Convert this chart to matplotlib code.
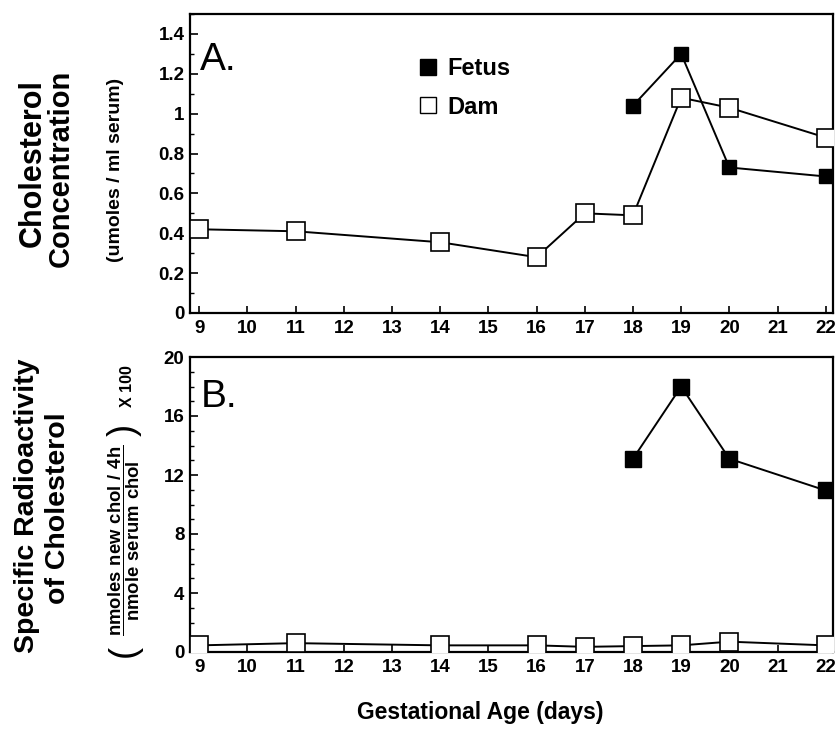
import matplotlib
matplotlib.use("Agg")
import matplotlib.pyplot as plt
from matplotlib.lines import Line2D
from matplotlib.ticker import MultipleLocator

plt.rcParams['font.family'] = ['Liberation Sans', 'DejaVu Sans']
plt.rcParams['mathtext.fontset'] = 'custom'
plt.rcParams['mathtext.rm'] = 'Liberation Sans:bold'
plt.rcParams['mathtext.bf'] = 'Liberation Sans:bold'

# Data
days = [9, 10, 11, 12, 13, 14, 15, 16, 17, 18, 19, 20, 21, 22]
dam_days = [9, 11, 14, 16, 17, 18, 19, 20, 22]
dam_conc = [0.42, 0.41, 0.355, 0.28, 0.50, 0.49, 1.08, 1.03, 0.88]
fetus_days = [18, 19, 20, 22]
fetus_conc = [1.04, 1.30, 0.73, 0.685]
dam_sra = [0.45, 0.6, 0.45, 0.45, 0.35, 0.4, 0.45, 0.7, 0.45]
fetus_sra = [13.1, 18.0, 13.1, 10.95]
conc_ticks = [0, 0.2, 0.4, 0.6, 0.8, 1.0, 1.2, 1.4]
conc_labels = ['0', '0.2', '0.4', '0.6', '0.8', '1', '1.2', '1.4']
sra_ticks = [0, 4, 8, 12, 16, 20]

W, H = 836, 731
fig = plt.figure(figsize=(W / 100, H / 100), dpi=100)

def ax_rect(l, t, r, b):
    return [l / W, 1 - b / H, (r - l) / W, (b - t) / H]

ax1 = fig.add_axes(ax_rect(190, 14, 833, 313))
ax2 = fig.add_axes(ax_rect(190, 357, 833, 652))

TICK_FS = 13.5
for ax in (ax1, ax2):
    for s in ax.spines.values():
        s.set_linewidth(1.6)
    ax.set_xlim(8.81, 22.15)
    ax.set_xticks(days)
    ax.set_xticklabels([str(d) for d in days], fontsize=TICK_FS, fontweight='bold')
    ax.tick_params(axis='x', direction='in', length=5, width=1.2, pad=5)
    ax.tick_params(axis='y', which='major', direction='in', length=6, width=1.2, pad=4)
    ax.tick_params(axis='y', which='minor', direction='in', length=3, width=1.0)

# Panel A
ax1.plot(fetus_days, fetus_conc, color='black', lw=1.4, marker='s', ms=9.5,
         mfc='black', mec='black', zorder=3)
ax1.plot(dam_days, dam_conc, color='black', lw=1.4, marker='s', ms=13,
         mfc='white', mec='black', mew=1.2, zorder=4)
ax1.set_ylim(0, 1.5)
ax1.set_yticks(conc_ticks)
ax1.set_yticklabels(conc_labels, fontsize=TICK_FS, fontweight='bold')
ax1.yaxis.set_minor_locator(MultipleLocator(0.1))
ax1.text(0.016, 0.905, 'A.', transform=ax1.transAxes, fontsize=28, va='top', ha='left')

handles = [Line2D([], [], ls='none', marker='s', ms=11.5, mfc='black', mec='black'),
           Line2D([], [], ls='none', marker='s', ms=11.5, mfc='white', mec='black', mew=1.0)]
ax1.legend(handles, ['Fetus', 'Dam'], loc='upper left', bbox_to_anchor=(0.352, 0.855),
           frameon=False, prop={'size': 17, 'weight': 'bold'}, handletextpad=0.3,
           handlelength=1.0, borderpad=0, borderaxespad=0, labelspacing=0.65)

# Panel B
ax2.plot(fetus_days, fetus_sra, color='black', lw=1.4, marker='s', ms=11,
         mfc='black', mec='black', zorder=3)
ax2.plot(dam_days, dam_sra, color='black', lw=1.4, marker='s', ms=12.5,
         mfc='white', mec='black', mew=1.2, zorder=4)
ax2.set_ylim(0, 20)
ax2.set_yticks(sra_ticks)
ax2.set_yticklabels([str(t) for t in sra_ticks], fontsize=TICK_FS, fontweight='bold')
ax2.yaxis.set_minor_locator(MultipleLocator(1))
ax2.text(0.016, 0.925, 'B.', transform=ax2.transAxes, fontsize=28, va='top', ha='left')

# Y labels
def fx(px):
    return px / W

def fy(py):
    return 1 - py / H

fig.text(fx(33), fy(163), 'Cholesterol', rotation=90, ha='center', va='center',
         fontsize=22, fontweight='bold')
fig.text(fx(61), fy(168), 'Concentration', rotation=90, ha='center', va='center',
         fontsize=21, fontweight='bold')
fig.text(fx(115), fy(170), '(umoles / ml serum)', rotation=90, ha='center', va='center',
         fontsize=14, fontweight='bold')

fig.text(fx(27), fy(506), 'Specific Radioactivity', rotation=90, ha='center', va='center',
         fontsize=20.5, fontweight='bold')
fig.text(fx(58), fy(508), 'of Cholesterol', rotation=90, ha='center', va='center',
         fontsize=20.5, fontweight='bold')
fig.text(fx(124), fy(540),
         r'$\dfrac{\mathrm{nmoles\ new\ chol\ /\ 4h}}{\mathrm{nmole\ serum\ chol}}$',
         rotation=90, ha='center', va='center', fontsize=13.3)
fig.text(fx(124), fy(651), '(', rotation=90, ha='center', va='center', fontsize=26)
fig.text(fx(124), fy(430), ')', rotation=90, ha='center', va='center', fontsize=26)
fig.text(fx(128), fy(386), 'X 100', rotation=90, ha='center', va='center',
         fontsize=11.5, fontweight='bold')

fig.text(fx(480), fy(712), 'Gestational Age (days)', ha='center', va='center',
         fontsize=16.5, fontweight='bold')

fig.savefig('out.png', dpi=100)
